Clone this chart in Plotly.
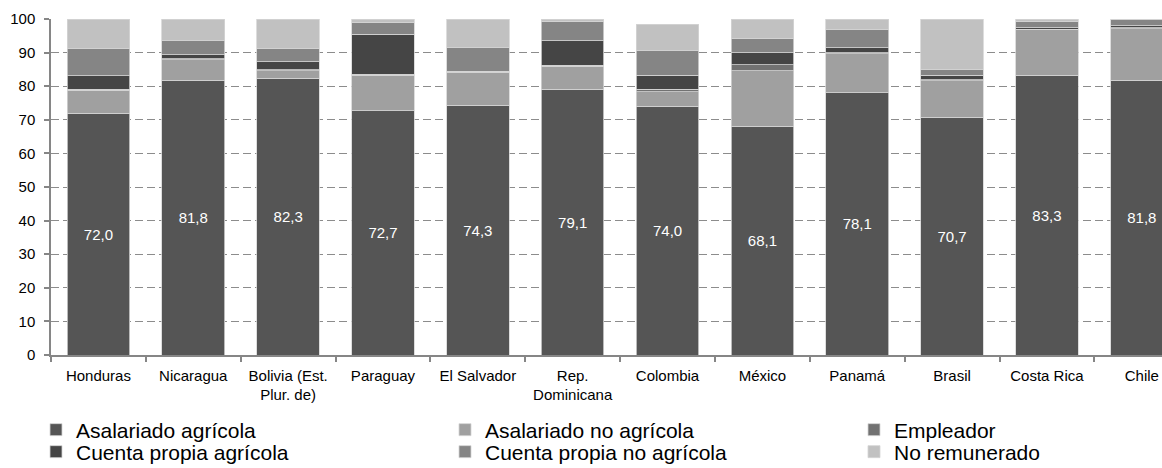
import plotly.graph_objects as go

# Distribución de la población ocupada rural por categoría (%), por país
paises = ["Honduras", "Nicaragua", "Bolivia (Est.<br>Plur. de)", "Paraguay",
          "El Salvador", "Rep.<br>Dominicana", "Colombia", "México",
          "Panamá", "Brasil", "Costa Rica", "Chile"]

asalariado_agricola = [72.0, 81.8, 82.3, 72.7, 74.3, 79.1, 74.0, 68.1, 78.1, 70.7, 83.3, 81.8]
asalariado_no_agricola = [6.8, 6.1, 2.3, 10.5, 9.8, 6.9, 4.4, 16.5, 11.5, 10.9, 13.5, 15.3]
empleador = [0.3, 0.3, 0.3, 0.3, 0.3, 0.2, 0.7, 1.8, 0.4, 0.3, 0.2, 0.3]
cuenta_propia_agricola = [4.0, 1.2, 2.4, 11.9, 0.1, 7.4, 4.1, 3.5, 1.5, 1.3, 0.4, 0.6]
cuenta_propia_no_agricola = [8.0, 4.2, 3.8, 3.6, 7.0, 5.7, 7.3, 4.3, 5.3, 1.7, 2.0, 1.8]
no_remunerado = [8.9, 6.4, 8.9, 1.0, 8.5, 0.7, 8.0, 5.8, 3.2, 15.1, 0.6, 0.2]

series = [
    ("Asalariado agrícola", asalariado_agricola, "#555555"),
    ("Asalariado no agrícola", asalariado_no_agricola, "#a0a0a0"),
    ("Empleador", empleador, "#727272"),
    ("Cuenta propia agrícola", cuenta_propia_agricola, "#454545"),
    ("Cuenta propia no agrícola", cuenta_propia_no_agricola, "#858585"),
    ("No remunerado", no_remunerado, "#c1c1c1"),
]

FONT = "Liberation Sans, Arial, sans-serif"
W, H = 1162, 468

# legend slot per series: (left px, text-centre px), three columns by two rows
legend_pos = [(36, 430), (445, 430), (854, 430),
              (36, 452), (445, 452), (854, 452)]

fig = go.Figure()
for i, (name, vals, color) in enumerate(series):
    lg = "legend" if i == 0 else f"legend{i + 1}"
    kw = {}
    if i == 0:
        kw = dict(texttemplate="%{y:.1f}", textposition="inside",
                  insidetextanchor="middle", textangle=0,
                  textfont=dict(color="white", size=15, family=FONT))
    fig.add_trace(go.Bar(
        name=name, x=paises, y=vals,
        marker=dict(color=color, line=dict(color="#d4d4d4", width=0.8)),
        legend=lg, hoverinfo="skip", **kw))

legends = {}
for i, (px, py) in enumerate(legend_pos):
    key = "legend" if i == 0 else f"legend{i + 1}"
    legends[key] = dict(
        xref="container", yref="container",
        x=px / W, y=1 - py / H, xanchor="left", yanchor="middle",
        orientation="v", itemwidth=30,
        font=dict(family=FONT, size=21, color="#000000"),
        bgcolor="rgba(0,0,0,0)", borderwidth=0,
        itemclick=False, itemdoubleclick=False,
    )

fig.update_layout(
    width=W, height=H,
    margin=dict(l=51, r=0, t=19, b=113, autoexpand=False),
    barmode="stack", bargap=0.34,
    separators=",.",
    plot_bgcolor="white", paper_bgcolor="white",
    font=dict(family=FONT, size=15, color="#000000"),
    showlegend=True,
    **legends,
)

fig.update_xaxes(
    type="category", range=[-0.5, 11.213],
    showline=True, linecolor="#868686", linewidth=1.5,
    ticks="outside", tickson="boundaries", ticklen=5,
    tickcolor="#868686", tickwidth=1.5, tickangle=0,
    ticklabelstandoff=6,
    tickfont=dict(family=FONT, size=15, color="#000000"),
    showgrid=False, fixedrange=True, automargin=False,
)
fig.update_yaxes(
    range=[0, 100], dtick=10, tick0=0,
    showline=True, linecolor="#868686", linewidth=1.5,
    ticks="outside", ticklen=5, tickcolor="#868686", tickwidth=1.5,
    tickfont=dict(family=FONT, size=15, color="#000000"),
    ticklabelstandoff=6,
    showgrid=True, gridcolor="#8c8c8c", gridwidth=1, griddash="8px,4px",
    zeroline=False, fixedrange=True, automargin=False,
)

fig.write_html("out.html", config={"displayModeBar": False})
